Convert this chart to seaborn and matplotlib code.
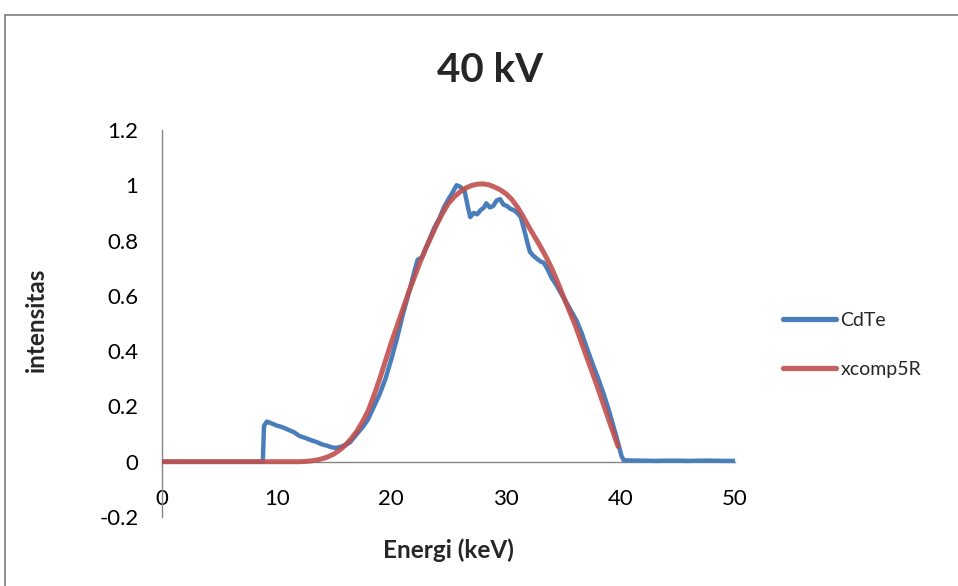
import numpy as np
import pandas as pd
import matplotlib
matplotlib.use("Agg")
import matplotlib.pyplot as plt
import seaborn as sns
from matplotlib.lines import Line2D

# ---- data ----
cdte_x = [0, 4, 8.8, 8.9, 9.15, 9.6, 10.0, 10.5, 11.0, 11.5, 12.0, 12.5, 13.0, 13.5,
          14.0, 14.4, 14.8, 15.2, 15.6, 16.0, 16.4, 16.8, 17.2, 17.6, 18.0, 18.5,
          19.0, 19.5, 20.0, 20.5, 21.0, 21.5, 22.0, 22.3, 22.7, 23.0, 23.4, 23.8,
          24.2, 24.6, 25.0, 25.3, 25.7, 26.0, 26.4, 26.7, 26.9, 27.2, 27.5, 27.8,
          28.1, 28.3, 28.6, 28.9, 29.2, 29.5, 29.8, 30.1, 30.4, 30.7, 31.0, 31.3,
          31.6, 31.9, 32.1, 32.4, 32.7, 33.0, 33.3, 33.6, 34.0, 34.4, 34.8, 35.3,
          35.8, 36.2, 36.6, 37.0, 37.5, 38.0, 38.5, 39.0, 39.5, 39.8, 40.1, 40.3,
          41.5, 43, 44.5, 46, 47.5, 49, 50]
cdte_y = [0, 0, 0, 0.13, 0.145, 0.138, 0.131, 0.125, 0.116, 0.107, 0.093, 0.086, 0.078, 0.071,
          0.062, 0.058, 0.052, 0.050, 0.054, 0.060, 0.070, 0.090, 0.110, 0.130, 0.155, 0.200,
          0.245, 0.300, 0.370, 0.445, 0.530, 0.605, 0.685, 0.730, 0.740, 0.770, 0.810, 0.850,
          0.880, 0.920, 0.950, 0.970, 1.000, 0.995, 0.980, 0.920, 0.885, 0.900, 0.895, 0.910,
          0.920, 0.935, 0.920, 0.925, 0.945, 0.950, 0.930, 0.925, 0.915, 0.910, 0.900, 0.885,
          0.840, 0.790, 0.760, 0.745, 0.735, 0.725, 0.720, 0.700, 0.665, 0.640, 0.610, 0.575,
          0.538, 0.508, 0.468, 0.420, 0.362, 0.308, 0.250, 0.185, 0.112, 0.068, 0.020, 0.005,
          0.004, 0.003, 0.004, 0.003, 0.004, 0.003, 0.003]

xcomp_x = [0, 12, 12.5, 13, 13.5, 14, 14.5, 15, 15.5, 16, 16.5, 17, 17.5, 18, 18.5,
           19, 19.5, 20, 20.5, 21, 21.5, 22, 22.5, 23, 23.5, 24, 24.5, 25, 25.5,
           26, 26.5, 27, 27.5, 28, 28.5, 29, 29.5, 30, 30.5, 31, 31.5, 32, 32.5,
           33, 33.5, 34, 34.5, 35, 35.5, 36, 36.5, 37, 37.5, 38, 38.5, 39, 39.5, 39.8]
xcomp_y = [0, 0, 0.001, 0.003, 0.006, 0.011, 0.018, 0.028, 0.042, 0.060, 0.083, 0.110,
           0.145, 0.185, 0.240, 0.300, 0.365, 0.430, 0.490, 0.550, 0.610, 0.665, 0.720,
           0.770, 0.815, 0.860, 0.900, 0.935, 0.958, 0.976, 0.990, 0.999, 1.004, 1.005,
           1.002, 0.994, 0.984, 0.970, 0.950, 0.922, 0.888, 0.850, 0.815, 0.780, 0.742,
           0.700, 0.652, 0.600, 0.550, 0.500, 0.443, 0.385, 0.328, 0.270, 0.210, 0.150,
           0.090, 0.055]

x_ticks = [0, 10, 20, 30, 40, 50]
y_ticks = [-0.2, 0, 0.2, 0.4, 0.6, 0.8, 1.0, 1.2]
y_tick_labels = ["-0.2", "0", "0.2", "0.4", "0.6", "0.8", "1", "1.2"]

df_cdte = pd.DataFrame({"x": cdte_x, "y": cdte_y})
df_xcomp = pd.DataFrame({"x": xcomp_x, "y": xcomp_y})

sns.set_style("white")
plt.rcParams["font.family"] = ["Lato", "DejaVu Sans"]

fig = plt.figure(figsize=(9.58, 5.86), dpi=100)
ax = fig.add_axes([162/958, 1-517/586, (735-162)/958, (517-130)/586])

sns.lineplot(data=df_cdte, x="x", y="y", ax=ax, sort=False, color="#4a7ebb",
             linewidth=3.2, label="CdTe", zorder=3)
sns.lineplot(data=df_xcomp, x="x", y="y", ax=ax, sort=False, color="#c0504d",
             linewidth=3.6, alpha=0.9, label="xcomp5R", zorder=4)

ax.set_xlim(0, 50)
ax.set_ylim(-0.2, 1.2)
ax.set_xticks(x_ticks)
ax.set_xticklabels([str(t) for t in x_ticks])
ax.set_yticks(y_ticks)
ax.set_yticklabels(y_tick_labels)

for s in ["top", "right"]:
    ax.spines[s].set_visible(False)
ax.spines["left"].set_color("#868686")
ax.spines["left"].set_linewidth(1.0)
ax.spines["bottom"].set_position(("data", 0))
ax.spines["bottom"].set_color("#868686")
ax.spines["bottom"].set_linewidth(1.0)
ax.spines["bottom"].set_zorder(1)

ax.tick_params(axis="x", length=0, pad=20, labelsize=16, colors="black")
ax.tick_params(axis="y", length=0, pad=17, labelsize=16, colors="black")

ax.set_xlabel("Energi (keV)", fontsize=17.5, fontweight="bold")
ax.set_ylabel("intensitas", fontsize=17.5, fontweight="bold")
ax.xaxis.set_label_coords(0.5, -0.056)
ax.yaxis.set_label_coords(-0.199, 0.51)

fig.text(490/958, 1-70/586, "40 kV", ha="center", va="center", fontsize=29,
         fontweight="bold")

leg = ax.legend(loc="upper left", bbox_to_anchor=(783/958, 1-312/586),
                bbox_transform=fig.transFigure, frameon=False, fontsize=14,
                handlelength=2.75, handletextpad=0.2, labelspacing=1.65,
                borderaxespad=0, borderpad=0)
for h in leg.get_lines():
    h.set_linewidth(3.8)

# chart border (top and left)
fig.add_artist(Line2D([5/958, 1], [1-15/586, 1-15/586], transform=fig.transFigure,
                      color="#7f7f7f", linewidth=1.2))
fig.add_artist(Line2D([5/958, 5/958], [0, 1-15/586], transform=fig.transFigure,
                      color="#7f7f7f", linewidth=1.2))

fig.savefig("out.png", dpi=100)
